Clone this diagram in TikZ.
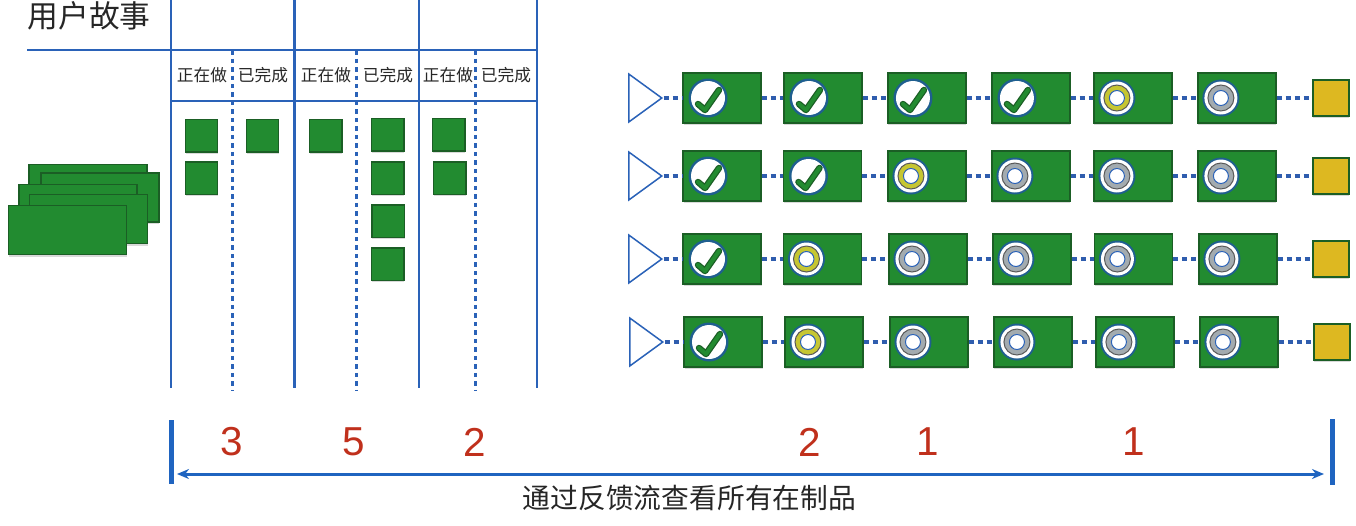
\documentclass[tikz,border=0pt]{standalone}
\usepackage{fontspec}
\usepackage{tikz}
\usetikzlibrary{shapes.geometric,shadows,arrows.meta}
\setmainfont{Liberation Sans}
\newfontfamily\cjk{Noto Sans CJK SC}
\definecolor{cardgreen}{HTML}{228B30}
\definecolor{cardedge}{HTML}{1B5E25}
\definecolor{lineblue}{HTML}{2A62B8}
\definecolor{barblue}{HTML}{1F64C0}
\definecolor{dotblue}{HTML}{2F5DAE}
\definecolor{rimblue}{HTML}{1F5F8F}
\definecolor{ringyellow}{HTML}{C6C632}
\definecolor{ringgrey}{HTML}{A3ABAF}
\definecolor{endyellow}{HTML}{DDB821}
\definecolor{numred}{HTML}{C0301C}
\tikzset{
    node distance=2.08cm, % between the cards of one row
    softshadow/.style={drop shadow={opacity=0.3, shadow xshift=0.01cm, shadow yshift=-0.04cm}},
    }

\begin{document}
\begin{tikzpicture}[
x=0.02cm, y=-0.02cm,
gridline/.style={draw=lineblue, line width=0.055cm},
griddots/.style={draw=lineblue, line width=0.06cm, dash pattern=on 0.09cm off 0.08cm},
flowdots/.style={draw=dotblue, line width=0.07cm, dash pattern=on 0.1cm off 0.08cm},
story/.style={rectangle, draw=cardedge, fill=cardgreen, line width=0.03cm, minimum width=2.36cm, minimum height=0.98cm, inner sep=0, softshadow},
task/.style={rectangle, draw=cardedge, fill=cardgreen, line width=0.03cm, minimum size=0.65cm, inner sep=0, softshadow},
cardbox/.style={rectangle, draw=cardedge, fill=cardgreen, line width=0.03cm, minimum width=1.56cm, minimum height=1cm, inner sep=0, softshadow},
donecard/.style={cardbox, path picture={
    \begin{scope}[shift=(path picture bounding box.center)]
    \fill[rimblue] (-14,0) circle (0.39cm);
    \fill[white] (-14,0) circle (0.34cm);
    \draw[cardedge, line width=0.13cm, line cap=round, line join=round] (-24,6) -- (-17,12) -- (-3,-8);
    \draw[cardgreen, line width=0.08cm, line cap=round, line join=round] (-24,6) -- (-17,12) -- (-3,-8);
    \end{scope}}},
ringcard/.style={cardbox, path picture={
    \begin{scope}[shift=(path picture bounding box.center)]
    \fill[rimblue] (-16,0) circle (0.37cm);
    \fill[white] (-16,0) circle (0.33cm);
    \draw[fill=#1, draw=black!65, line width=0.02cm] (-16,0) circle (0.26cm);
    \draw[fill=white, draw=lineblue, line width=0.02cm] (-16,0) circle (0.15cm);
    \end{scope}}},
starttri/.style={isosceles triangle, isosceles triangle stretches, draw=lineblue, fill=white, line width=0.03cm, minimum width=0.96cm, minimum height=0.66cm, inner sep=0},
endbox/.style={rectangle, draw=cardedge, fill=endyellow, line width=0.04cm, minimum size=0.72cm, inner sep=0, softshadow},
collabel/.style={font=\cjk\fontsize{9.5pt}{11pt}\selectfont, text=black!85, inner sep=0},
count/.style={font=\fontsize{23pt}{26pt}\selectfont, text=numred, inner sep=0},
]
\useasboundingbox (0,0) rectangle (1356,525);

% board
\coordinate (headL) at (27,50);
\coordinate (headR) at (537,50);
\coordinate (subL) at (171,101);
\coordinate (subR) at (537,101);
\draw[gridline] (headL) -- (headR);
\draw[gridline] (subL) -- (subR);
\foreach \x in {171,294.5,419,537} {
    \draw[gridline] (\x,0) -- (\x,388);
}
\foreach \x in {232.5,356,475.5} {
    \draw[griddots] (\x,50) -- (\x,390);
}
\node[font=\cjk\fontsize{17.5pt}{20pt}\selectfont, text=black!85, inner sep=0] (title) at (89,16) {用户故事};
\node[collabel] (doingA) at (202,75) {正在做};
\node[collabel] (doneA) at (263,75) {已完成};
\node[collabel] (doingB) at (326,75) {正在做};
\node[collabel] (doneB) at (388,75) {已完成};
\node[collabel] (doingC) at (448,75) {正在做};
\node[collabel] (doneC) at (506,75) {已完成};

% story pile
\node[story] (pileA) at (88,189) {};
\node[story] (pileB) at (100,197.5) {};
\node[story] (pileC) at (78,209) {};
\node[story] (pileD) at (88.5,219) {};
\node[story] (pileE) at (67.5,230) {};

% tasks
\node[task] (taskA) at (201.5,135.5) {};
\node[task] (taskB) at (201.5,178) {};
\node[task] (taskC) at (262.5,135.5) {};
\node[task] (taskD) at (325.5,135.5) {};
\node[task] (taskE) at (387.5,134.5) {};
\node[task] (taskF) at (387.5,178) {};
\node[task] (taskG) at (388,221) {};
\node[task] (taskH) at (387.5,264) {};
\node[task] (taskI) at (448.5,134.5) {};
\node[task] (taskJ) at (449.5,178) {};

% first row
\node[donecard] (a1) at (722,98) {};
\node[donecard] (a2) [right of=a1, node distance=2.02cm] {};
\node[donecard] (a3) [right of=a2] {};
\node[donecard] (a4) [right of=a3] {};
\node[ringcard=ringyellow] (a5) [right of=a4, node distance=2.04cm] {};
\node[ringcard=ringgrey] (a6) [right of=a5] {};
\node[starttri] (sa) at (641,98) {};
\node[endbox] (ea) at (1330.5,98) {};

% second row
\node[donecard] (b1) at (722,176) {};
\node[donecard] (b2) [right of=b1, node distance=2.01cm] {};
\node[ringcard=ringyellow] (b3) [right of=b2, node distance=2.09cm] {};
\node[ringcard=ringgrey] (b4) [right of=b3] {};
\node[ringcard=ringgrey] (b5) [right of=b4, node distance=2.04cm] {};
\node[ringcard=ringgrey] (b6) [right of=b5] {};
\node[starttri] (sb) at (641,176) {};
\node[endbox] (eb) at (1330.5,176) {};

% third row
\node[donecard] (c1) at (722,259) {};
\node[ringcard=ringyellow] (c2) [right of=c1, node distance=2.01cm] {};
\node[ringcard=ringgrey] (c3) [right of=c2, node distance=2.11cm] {};
\node[ringcard=ringgrey] (c4) [right of=c3] {};
\node[ringcard=ringgrey] (c5) [right of=c4, node distance=2.03cm] {};
\node[ringcard=ringgrey] (c6) [right of=c5, node distance=2.09cm] {};
\node[starttri] (sc) at (641,259) {};
\node[endbox] (ec) at (1330.5,259) {};

% fourth row
\node[donecard] (d1) at (723,342) {};
\node[ringcard=ringyellow] (d2) [right of=d1, node distance=2.02cm] {};
\node[ringcard=ringgrey] (d3) [right of=d2, node distance=2.1cm] {};
\node[ringcard=ringgrey] (d4) [right of=d3] {};
\node[ringcard=ringgrey] (d5) [right of=d4, node distance=2.04cm] {};
\node[ringcard=ringgrey] (d6) [right of=d5] {};
\node[starttri] (sd) at (642,342) {};
\node[endbox] (ed) at (1331.5,342) {};

% flow connectors
\foreach \r in {a,b,c,d} {
    \draw[flowdots] (s\r.apex) -- (\r1.west);
    \draw[flowdots] (\r1.east) -- (\r2.west);
    \draw[flowdots] (\r2.east) -- (\r3.west);
    \draw[flowdots] (\r3.east) -- (\r4.west);
    \draw[flowdots] (\r4.east) -- (\r5.west);
    \draw[flowdots] (\r5.east) -- (\r6.west);
    \draw[flowdots] (\r6.east) -- (e\r.west);
}

% counts
\node[count] (numA) at (232,442) {3};
\node[count] (numB) at (354,442) {5};
\node[count] (numC) at (475,442) {2};
\node[count] (numD) at (810,442) {2};
\node[count] (numE) at (928,442) {1};
\node[count] (numF) at (1134,442) {1};

% span
\coordinate (barAtop) at (171,420);
\coordinate (barAbot) at (171,484);
\coordinate (barBtop) at (1332,419);
\coordinate (barBbot) at (1332,485);
\coordinate (spanL) at (177,474);
\coordinate (spanR) at (1324,474);
\draw[barblue, line width=0.1cm] (barAtop) -- (barAbot);
\draw[barblue, line width=0.1cm] (barBtop) -- (barBbot);
\draw[barblue, line width=0.06cm, {Stealth[length=0.24cm,width=0.2cm]}-{Stealth[length=0.24cm,width=0.2cm]}] (spanL) -- (spanR);
\node[font=\cjk\fontsize{15.8pt}{18pt}\selectfont, text=black!85, inner sep=0] (caption) at (689.5,498) {通过反馈流查看所有在制品};
\end{tikzpicture}
\end{document}
